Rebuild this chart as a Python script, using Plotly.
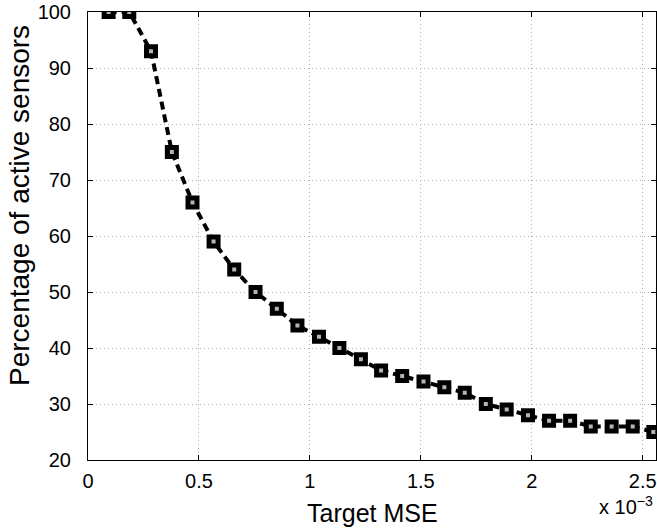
import plotly.graph_objects as go

# Target MSE values (in units of 1e-3) and percentage of active sensors
target_mse_e3 = [0.093, 0.186, 0.284, 0.378, 0.471, 0.566, 0.659, 0.755, 0.851,
                 0.944, 1.041, 1.133, 1.230, 1.321, 1.416, 1.512, 1.606, 1.698,
                 1.793, 1.887, 1.983, 2.078, 2.173, 2.266, 2.360, 2.455, 2.548]
active_pct = [100, 100, 93, 75, 66, 59, 54, 50, 47, 44, 42, 40, 38, 36, 35,
              34, 33, 32, 30, 29, 28, 27, 27, 26, 26, 26, 25]

x_tickvals = [0, 0.5, 1, 1.5, 2, 2.5]
x_ticktext = ["0", "0.5", "1", "1.5", "2", "2.5"]
y_tickvals = [20, 30, 40, 50, 60, 70, 80, 90, 100]

FONT = "Liberation Sans, Arial, Helvetica, sans-serif"

fig = go.Figure()
fig.add_trace(go.Scatter(
    x=target_mse_e3, y=active_pct,
    mode="lines+markers",
    line=dict(color="black", width=4, dash="8px,5px"),
    marker=dict(symbol="square", size=9, color="#b4b4b4",
                line=dict(color="black", width=5)),
    showlegend=False,
))

axis_common = dict(
    showline=True, linecolor="black", linewidth=1, mirror="all",
    ticks="inside", ticklen=5, tickcolor="black", tickwidth=1,
    showgrid=True, gridcolor="#b0b0b0", gridwidth=1, griddash="1px,3px",
    zeroline=False,
    tickfont=dict(family=FONT, size=20, color="black"),
)

fig.update_xaxes(range=[0, 2.56], tickvals=x_tickvals, ticktext=x_ticktext,
                 ticklabelstandoff=3, **axis_common)
fig.update_yaxes(range=[20, 100], tickvals=y_tickvals,
                 ticklabelstandoff=12, **axis_common)

fig.update_layout(
    width=657, height=529,
    margin=dict(l=88, r=1, t=12, b=69),
    plot_bgcolor="white", paper_bgcolor="white",
    font=dict(family=FONT, color="black"),
    annotations=[
        dict(text="Target MSE", xref="paper", yref="paper", x=0.5, y=0,
             xanchor="center", yanchor="middle", yshift=-53, showarrow=False,
             font=dict(family=FONT, size=25, color="black")),
        dict(text="Percentage of active sensors", xref="paper", yref="paper",
             x=0, y=0.567, xanchor="center", yanchor="middle", xshift=-68,
             textangle=-90, showarrow=False,
             font=dict(family=FONT, size=28, color="black")),
        dict(text="x 10<sup>−3</sup>", xref="paper", yref="paper", x=1, y=0,
             xanchor="right", yanchor="middle", xshift=-1, yshift=-45,
             showarrow=False,
             font=dict(family=FONT, size=20, color="black")),
    ],
)

fig.write_html("out.html", config={"displayModeBar": False})

# remove default page margin so the figure sits at the window's top-left
with open("out.html", "r", encoding="utf-8") as f:
    html = f.read()
html = html.replace("<head>", "<head><style>html,body{margin:0;padding:0;overflow:hidden;}</style>", 1)
with open("out.html", "w", encoding="utf-8") as f:
    f.write(html)
